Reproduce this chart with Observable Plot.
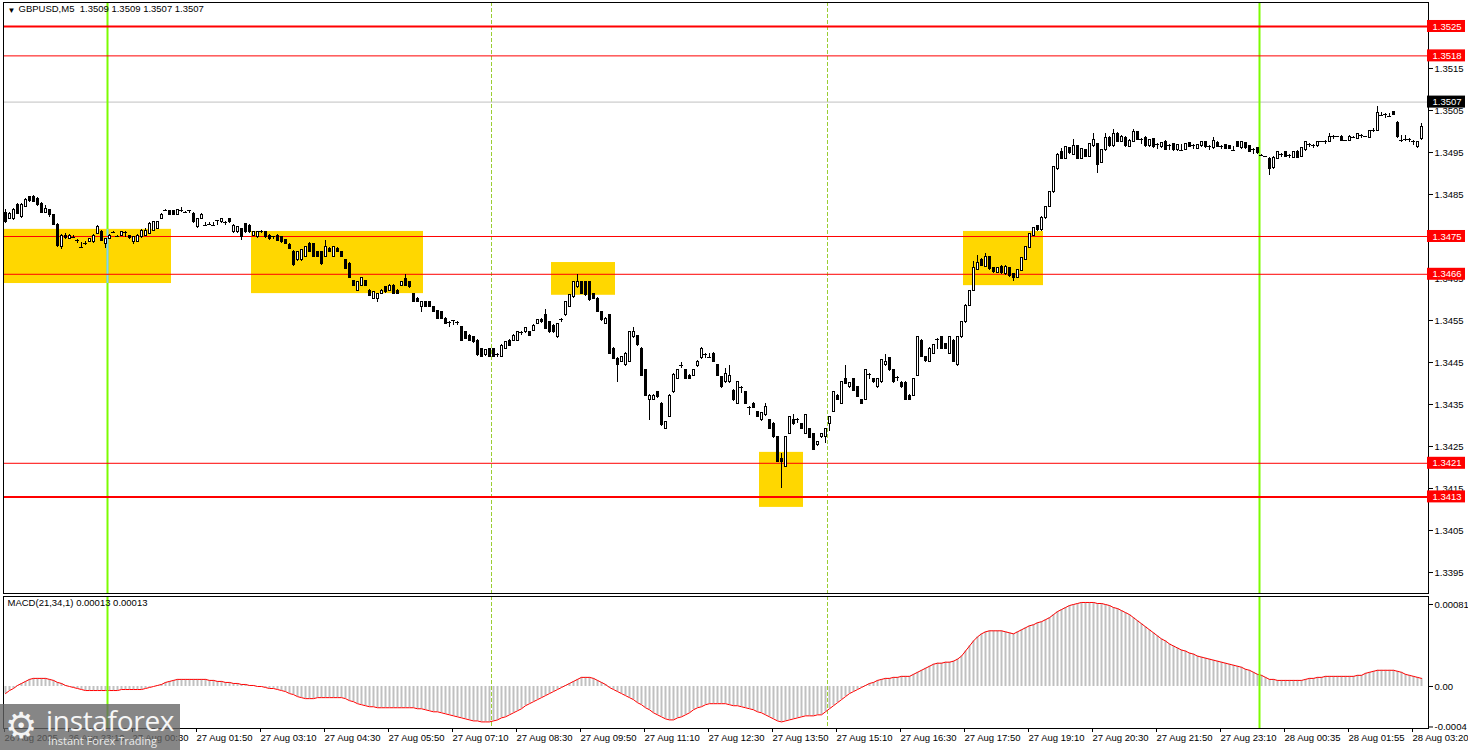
<!DOCTYPE html>
<html><head><meta charset="utf-8">
<script src="https://cdn.jsdelivr.net/npm/d3@7"></script>
<script src="https://cdn.jsdelivr.net/npm/@observablehq/plot@0.6"></script>
<style>
body{margin:0;background:#fff;}
#wrap{position:relative;width:1468px;height:750px;overflow:hidden;background:#fff;}
#wrap svg{display:block;position:absolute;left:0;}
#wm{position:absolute;left:0;top:704px;width:180px;height:46px;background:rgba(100,100,100,0.78);color:#fff;font-family:"Open Sans","DejaVu Sans",sans-serif;}
#wm .gear{position:absolute;left:5px;top:3px;font-size:36px;line-height:38px;color:#f4f4f4;font-family:"DejaVu Sans";}
#wm .big{position:absolute;left:46px;top:1px;font-size:28px;line-height:30px;letter-spacing:-0.3px;color:#f6f6f6;}
#wm .small{position:absolute;left:48px;top:30px;font-size:11px;line-height:13px;color:#eaeaea;}
</style></head><body><div id="wrap"></div>
<script>
// ---------- data (prices in pips above 1.3400) ----------
const BASE = 1.34, PIP = 0.0001;
const candleOpen = [80.6,79.2,79.2,82.4,79.6,82.0,84.4,84.4,84.0,82.8,80.6,81.2,80.0,77.8,72.4,75.0,74.4,74.8,74.0,72.6,73.6,73.6,73.6,75.6,76.0,73.2,74.4,76.0,75.2,75.2,76.0,75.2,73.6,73.8,74.8,75.2,75.6,76.4,76.8,79.2,81.2,81.0,81.0,80.2,81.2,80.8,81.2,80.4,77.2,79.2,77.7,78.0,77.7,78.8,78.4,78.4,79.2,76.0,76.0,76.8,78.0,77.6,75.2,74.8,76.4,76.0,75.2,75.0,75.2,74.8,74.2,72.9,71.3,69.3,69.3,70.1,73.2,73.2,71.3,71.3,70.1,72.1,70.1,72.1,71.3,69.3,68.5,64.3,62.1,63.3,64.3,62.1,60.2,60.2,61.3,62.9,62.1,63.3,62.1,63.3,64.9,64.1,61.3,60.2,58.2,59.4,59.4,58.2,57.2,57.0,55.4,54.6,55.0,54.6,53.4,52.2,51.4,51.0,50.2,48.2,46.7,48.2,48.2,47.1,46.3,48.2,50.2,50.2,50.2,52.2,52.2,52.2,52.6,54.2,55.0,56.2,54.6,53.8,51.0,55.4,56.2,58.2,60.5,62.9,64.1,64.1,64.1,61.3,60.2,57.0,54.2,56.2,48.3,45.9,45.1,44.3,45.1,51.0,51.2,48.3,43.1,36.1,36.1,37.9,35.2,29.2,32.0,37.9,41.1,44.3,43.1,41.9,41.9,44.1,46.0,47.1,46.3,47.1,44.3,41.5,40.3,40.3,38.3,35.2,39.1,37.9,34.4,35.2,33.2,31.2,32.4,31.2,30.4,27.2,22.1,20.1,28.0,31.2,31.6,30.3,28.0,29.2,28.0,25.3,27.2,27.2,30.3,33.2,37.1,35.2,41.1,39.1,41.1,39.1,36.1,36.1,42.3,41.1,39.1,40.3,44.3,46.1,43.1,41.5,40.2,40.2,37.1,37.1,41.9,50.2,46.3,45.1,47.1,50.6,51.0,49.4,47.1,50.2,44.3,51.0,54.6,58.5,62.0,67.0,69.5,67.8,70.0,67.5,66.3,67.8,66.0,67.5,66.0,65.2,66.8,69.5,72.3,75.2,77.5,76.5,79.3,82.0,85.5,91.0,95.0,93.5,96.0,94.5,96.5,93.5,95.5,94.0,96.5,97.0,92.5,95.5,98.5,96.5,99.5,97.5,98.5,96.3,97.5,99.8,98.2,98.5,96.5,98.2,97.0,96.2,97.6,96.8,97.0,95.5,95.6,95.6,97.2,96.8,95.8,96.5,97.5,96.6,96.0,97.3,96.5,96.8,96.5,95.6,97.5,96.0,97.2,96.5,95.8,96.0,94.5,94.0,93.5,91.2,93.5,94.6,95.0,94.5,93.8,95.2,94.0,95.5,97.0,96.8,96.5,97.5,97.8,97.5,99.0,98.8,98.8,97.8,97.8,98.6,98.3,99.2,98.8,98.5,100.0,100.2,103.8,104.2,103.6,104.6,102.1,98.0,98.3,98.3,97.8,96.2,98.3];
const candleHigh = [81.5,80.8,81.6,82.8,82.8,84.0,84.6,84.8,84.4,83.2,82.4,81.4,80.2,78.0,75.4,75.6,75.4,75.2,74.2,73.6,73.8,74.6,75.4,77.6,76.4,74.6,75.4,76.1,75.3,76.2,76.1,75.3,75.0,75.4,76.6,76.8,78.4,78.6,78.6,80.4,81.4,81.2,81.2,81.4,82.0,81.0,81.3,80.6,79.4,80.4,78.4,78.3,78.4,78.9,79.4,78.5,79.4,77.8,77.4,77.0,78.2,77.8,76.2,76.2,76.5,76.2,75.4,75.1,75.4,75.0,74.4,73.4,71.6,71.5,71.9,72.7,73.6,73.4,71.5,71.5,74.0,72.3,72.7,72.3,71.5,69.5,68.7,64.5,64.3,65.3,64.5,62.3,61.9,61.5,62.3,63.1,63.5,63.5,62.3,64.3,66.0,64.3,61.5,60.4,59.6,59.6,59.6,58.4,57.4,57.2,55.6,54.7,55.1,54.7,53.6,52.4,51.6,51.2,50.4,48.4,48.1,48.4,48.4,47.2,49.2,50.0,50.4,51.6,52.4,52.3,53.4,52.4,54.0,55.2,55.4,57.6,54.8,54.0,54.4,55.5,59.6,61.2,64.3,66.0,64.3,64.3,64.3,61.5,60.4,57.2,55.6,56.4,48.5,46.1,46.5,47.3,52.4,53.4,51.4,48.5,43.3,37.3,37.3,38.1,35.4,31.0,37.3,42.3,43.3,45.1,43.3,42.1,43.3,45.4,48.5,47.2,47.1,47.3,44.5,41.7,43.5,44.3,38.5,40.5,39.2,38.1,34.5,35.4,33.4,33.1,35.2,31.4,30.6,27.4,23.3,27.4,32.2,32.5,31.7,30.5,32.6,29.4,28.2,26.2,28.2,29.4,32.2,38.1,37.3,40.5,44.3,40.3,41.3,39.3,36.3,43.3,42.4,41.3,41.3,45.7,46.9,46.3,43.3,41.6,40.4,40.4,37.3,41.3,51.2,50.4,46.5,48.5,49.4,50.7,51.2,49.6,51.2,50.4,51.2,54.8,58.7,62.2,69.0,70.5,69.7,71.0,70.2,67.7,67.7,68.0,68.0,67.7,66.2,67.2,70.0,72.7,75.7,77.2,77.7,79.7,82.2,85.7,91.7,94.7,96.0,96.4,96.2,98.0,96.7,96.0,95.7,97.2,99.5,97.2,95.7,99.5,98.7,100.5,99.7,99.0,98.7,98.0,100.5,100.0,98.3,98.7,98.2,98.4,97.1,97.4,97.8,96.9,97.2,97.0,96.8,97.2,97.4,96.9,97.0,97.7,97.7,96.7,98.5,97.5,96.6,97.0,96.7,96.5,97.7,97.7,97.4,96.7,95.9,96.2,94.6,94.1,93.7,94.0,95.2,94.7,95.2,94.6,95.2,95.4,96.2,97.7,97.1,96.9,97.7,97.6,97.9,99.5,99.1,98.9,99.0,97.9,99.0,98.7,99.5,99.3,98.9,100.2,100.6,106.0,104.5,104.3,104.4,104.8,102.3,99.0,99.0,98.4,97.9,97.6,102.0];
const candleLow = [78.2,79.0,78.8,80.2,79.2,81.8,83.2,83.0,82.2,80.4,80.4,79.6,77.6,72.4,72.0,74.2,74.2,74.5,73.3,72.3,72.8,73.5,73.4,75.4,73.8,72.1,74.2,75.9,75.0,75.0,74.8,74.4,73.0,73.6,74.6,75.0,75.4,76.2,76.6,79.0,81.0,80.0,80.0,80.0,80.6,80.6,80.4,78.2,77.0,79.0,77.5,77.6,77.5,77.6,78.2,77.6,78.2,75.8,75.8,74.0,75.8,75.8,75.0,74.6,75.6,74.6,74.1,74.2,73.8,73.4,73.0,71.8,67.8,69.1,69.1,69.9,71.1,69.9,69.9,68.0,69.9,71.1,69.9,71.1,69.9,67.1,64.9,63.1,61.9,63.1,63.1,60.7,60.0,59.4,61.1,61.5,61.9,61.1,61.1,63.1,63.1,62.7,59.2,59.2,57.0,58.0,58.0,56.8,55.2,55.2,54.0,53.4,53.8,53.8,50.0,50.4,50.0,49.6,46.5,46.1,46.5,46.1,46.1,46.3,46.1,48.0,48.8,50.0,50.0,51.4,52.0,51.2,52.4,54.0,54.4,52.8,52.0,52.0,50.8,54.6,56.0,58.0,60.3,62.7,61.1,60.8,59.6,60.0,56.8,54.8,54.0,46.9,45.7,40.3,44.9,44.1,44.9,50.8,48.9,41.7,36.9,31.2,35.9,36.5,29.8,29.0,31.8,37.7,40.9,43.5,40.9,40.9,41.7,43.9,45.8,46.0,46.1,44.9,41.7,38.9,40.1,40.1,35.8,35.0,37.5,35.0,32.4,34.0,31.8,31.0,32.2,29.0,27.0,21.1,14.9,19.9,27.8,30.1,30.5,29.0,27.8,26.9,24.0,25.1,27.0,25.8,28.5,33.0,35.9,35.0,39.7,38.9,38.1,36.7,35.0,35.9,41.0,40.1,38.9,40.1,44.1,42.9,40.1,40.5,38.9,35.9,35.9,36.9,41.7,46.1,45.1,44.9,46.9,48.0,48.1,48.1,46.9,44.9,44.1,50.8,54.4,58.3,61.8,66.8,67.8,67.6,67.0,66.3,66.1,66.0,65.8,65.3,64.2,65.0,66.6,69.3,72.1,75.0,76.3,76.3,79.1,81.8,85.3,90.8,93.3,93.3,94.6,94.3,93.3,93.3,93.8,93.8,96.3,90.0,92.3,95.3,96.3,96.3,97.3,97.3,96.3,96.1,97.3,97.8,96.8,96.3,96.3,96.0,95.8,96.0,95.4,95.5,95.3,95.3,95.4,95.4,96.1,95.8,95.6,96.3,96.0,95.5,95.8,96.1,95.6,95.6,95.6,95.4,96.1,95.8,95.8,95.0,94.5,94.6,94.3,93.9,89.5,91.0,93.3,93.8,93.8,93.5,93.6,93.6,93.8,95.3,96.2,96.0,96.3,97.4,96.8,97.3,98.2,98.7,97.6,97.7,97.6,98.5,98.1,98.3,98.7,98.3,99.8,100.0,103.6,103.2,103.4,103.7,98.4,97.4,97.6,97.3,96.6,96.0,97.8];
const candleClose = [78.4,80.4,81.2,80.4,82.4,83.6,83.4,83.2,82.4,80.6,81.6,80.0,77.8,72.8,75.0,74.6,75.2,74.8,74.0,72.4,73.4,74.4,75.2,77.2,74.0,74.4,75.2,76.0,75.1,76.0,75.9,74.6,74.8,75.2,76.4,76.4,78.0,78.4,78.4,80.2,81.2,80.2,80.2,81.2,81.2,80.8,81.1,78.4,79.2,80.2,77.6,77.8,77.6,78.7,79.2,78.3,78.4,77.6,77.2,74.8,76.0,76.0,76.0,76.0,76.3,74.8,74.3,74.9,74.0,73.6,73.2,72.1,68.1,71.3,71.7,72.5,71.3,70.1,70.1,68.5,72.5,71.3,72.5,71.3,70.1,67.3,65.1,63.3,64.1,65.1,63.3,60.9,61.7,61.3,62.1,61.7,63.3,61.3,61.3,64.1,63.3,62.9,59.4,59.4,59.4,58.2,58.2,57.0,55.4,55.4,54.2,54.5,54.9,54.5,50.2,50.6,50.2,49.8,46.7,46.3,47.9,46.3,46.3,47.0,49.0,49.8,49.0,51.4,52.2,52.1,53.2,51.4,53.8,55.0,54.6,53.0,52.2,52.2,54.2,55.3,59.4,61.0,64.1,64.1,61.3,61.0,59.8,60.2,57.0,55.0,55.4,47.1,45.9,44.3,46.3,47.1,52.2,52.2,49.1,41.9,37.1,37.1,37.1,36.7,30.0,30.8,37.1,42.1,43.1,44.2,41.1,41.1,43.1,45.2,48.3,47.0,46.2,45.1,41.9,39.1,42.3,41.9,36.0,40.3,39.0,35.2,34.3,34.2,32.0,32.9,34.4,29.2,27.2,21.3,21.3,27.2,32.0,30.3,31.5,29.2,32.4,27.1,24.2,26.0,28.0,29.2,32.0,37.9,36.1,40.3,39.9,40.1,38.3,36.9,35.2,43.1,42.2,40.3,41.1,45.5,45.2,43.1,40.3,41.4,39.1,36.1,36.1,41.1,51.0,46.3,45.3,48.3,49.2,50.5,48.3,48.3,51.0,45.1,51.0,54.6,58.5,62.0,67.5,68.8,68.0,70.0,67.2,66.5,67.5,66.2,67.8,65.5,65.0,67.0,69.8,72.5,75.5,77.0,76.5,79.5,82.0,85.5,91.5,94.5,93.5,96.2,94.8,96.5,93.5,95.8,94.0,97.0,98.0,92.0,95.5,98.5,96.5,99.5,97.5,98.8,96.5,97.8,99.8,98.0,98.1,96.5,98.0,96.2,96.9,97.2,95.6,96.7,95.5,96.8,95.5,97.0,96.3,96.7,96.8,97.5,96.2,96.5,97.8,96.3,96.4,95.8,95.8,95.5,96.3,97.5,96.0,95.2,95.7,94.8,94.4,94.0,91.0,93.8,95.0,94.5,94.0,94.4,95.0,93.8,96.0,97.5,96.9,96.7,97.5,97.5,97.7,98.8,98.9,98.8,97.8,97.8,98.8,98.6,99.3,99.1,98.8,100.0,100.2,104.5,103.7,104.1,103.5,103.9,98.6,97.8,98.2,98.2,97.7,97.4,101.0];
// MACD(21,34,1) main value per bar, in units of 0.00001
const macdValues = [-7,-4,-2,1,3,5,7,8,8,8,8,7,6,4,3,1,0,-1,-2,-3,-4,-4,-4,-4,-4,-4,-4,-4,-4,-3,-3,-3,-3,-3,-3,-2,-1,0,1,2,4,5,6,7,7,7,7,7,7,7,7,6,6,5,5,4,4,3,3,2,2,1,1,0,0,-1,-2,-2,-3,-4,-5,-7,-8,-10,-11,-12,-12,-12,-11,-11,-11,-11,-11,-11,-11,-12,-14,-15,-17,-18,-19,-20,-20,-21,-21,-21,-21,-21,-21,-21,-21,-21,-21,-22,-22,-23,-24,-25,-25,-26,-27,-28,-29,-30,-31,-32,-33,-34,-34,-35,-35,-35,-34,-33,-31,-30,-28,-26,-24,-22,-19,-17,-15,-13,-11,-9,-7,-5,-3,-1,1,3,5,7,9,9,9,8,6,4,2,-1,-3,-5,-7,-9,-11,-13,-16,-18,-21,-23,-26,-28,-30,-32,-33,-33,-31,-30,-28,-26,-23,-21,-20,-18,-17,-17,-17,-17,-17,-18,-19,-19,-20,-21,-22,-23,-25,-26,-28,-30,-32,-34,-35,-34,-33,-32,-31,-30,-29,-29,-29,-28,-28,-25,-22,-19,-16,-13,-10,-7,-5,-3,-1,1,3,4,6,7,8,8,9,9,10,10,10,12,14,16,18,20,22,23,23,24,24,25,27,30,35,40,45,49,52,54,55,55,55,55,54,53,52,54,56,58,60,61,63,64,66,68,71,74,76,78,80,81,82,83,83,83,83,82,82,81,80,78,77,75,73,71,68,65,62,59,56,53,50,47,45,42,40,38,36,35,33,32,30,29,28,27,26,25,24,23,22,21,20,19,17,16,14,12,11,9,7,7,6,6,6,6,6,6,6,7,8,8,9,9,10,10,10,10,10,10,10,10,11,11,13,14,15,16,16,16,16,16,15,14,12,11,10,9,8];
// time axis: bar index of each tick and its label
const tickBars = [0,16,32,48,64,80,96,112,128,144,160,176,192,208,224,240,256,272,288,304,320,336,352];
const tickLabels = ["26 Aug 2025","26 Aug 23:10","27 Aug 00:30","27 Aug 01:50","27 Aug 03:10","27 Aug 04:30","27 Aug 05:50","27 Aug 07:10","27 Aug 08:30","27 Aug 09:50","27 Aug 11:10","27 Aug 12:30","27 Aug 13:50","27 Aug 15:10","27 Aug 16:30","27 Aug 17:50","27 Aug 19:10","27 Aug 20:30","27 Aug 21:50","27 Aug 23:10","28 Aug 00:35","28 Aug 01:55","28 Aug 03:20"];
const priceTicks = [1.3395,1.3405,1.3415,1.3425,1.3435,1.3445,1.3455,1.3465,1.3475,1.3485,1.3495,1.3505,1.3515,1.3525];
const macdTicks = [0.00081, 0, -0.0004];
const macdTickLabels = ["0.00081","0.00","-0.0004"];
// horizontal levels
const levelPrices = [1.3525, 1.3518, 1.3475, 1.3466, 1.3421, 1.3413];
const levelWidths = [2, 1, 1, 1, 1, 2];
const bidPrice = 1.3507;
// yellow zones (bar positions and price bounds)
const zoneStart = [-0.5, 61.5, 136.5, 188.5, 239.5];
const zoneEnd = [41.5, 104.5, 152.5, 199.5, 259.5];
const zoneTop = [1.34767, 1.34762, 1.34688, 1.34236, 1.34762];
const zoneBottom = [1.34638, 1.34614, 1.34610, 1.34105, 1.34633];
// vertical markers (bar where they sit)
const dayLineBars = [26, 314];
const sessionLineBars = [122, 206];
const headerText = "GBPUSD,M5\u00a0\u00a01.3509 1.3509 1.3507 1.3507";
const macdTitle = "MACD(21,34,1) 0.00013 0.00013";

// ---------- build ----------
const FONT = "'Liberation Sans', Arial, sans-serif";
const W = 1468;
const xDomain = [-0.5, 355.75];
const candles = candleOpen.map((o, i) => ({
  i, o: BASE + o * PIP, h: BASE + candleHigh[i] * PIP, l: BASE + candleLow[i] * PIP, c: BASE + candleClose[i] * PIP
}));
const bodies = candles.filter(d => Math.abs(d.c - d.o) >= 0.3 * PIP);
const dojis = candles.filter(d => Math.abs(d.c - d.o) < 0.3 * PIP);
const zones = zoneStart.map((s, k) => ({x1: s, x2: zoneEnd[k], y1: zoneBottom[k], y2: zoneTop[k]}));
const levels = levelPrices.map((p, k) => ({p, w: levelWidths[k]}));
const dayLines = dayLineBars.map(b => b - 0.5);
const sessionLines = sessionLineBars.map(b => b - 0.5);
const crossings = [];
dayLines.forEach(x => zones.forEach(z => { if (x >= z.x1 && x <= z.x2) crossings.push({x, y1: z.y1, y2: z.y2}); }));
const macd = macdValues.map((v, i) => ({i, v: v * 1e-5}));
const tickPos = tickBars.map(b => b - 0.5);
const labelAt = new Map(tickPos.map((p, k) => [p, tickLabels[k]]));

const mainPlot = Plot.plot({
  width: W, height: 594,
  marginLeft: 3, marginRight: 40, marginTop: 2, marginBottom: 1,
  x: {domain: xDomain, axis: null, label: null},
  y: {domain: [1.3390, 1.353071], axis: null, label: null},
  style: {fontFamily: FONT, fontSize: "9.5px", background: "transparent", overflow: "visible", color: "black"},
  marks: [
    Plot.rect(zones, {x1: "x1", x2: "x2", y1: "y1", y2: "y2", fill: "#FFD700"}),
    Plot.ruleX(sessionLines, {stroke: "#9ACD32", strokeDasharray: "4,2", strokeWidth: 1}),
    Plot.ruleY([bidPrice], {stroke: "#c0c0c0", strokeWidth: 1}),
    Plot.ruleX(dayLines, {stroke: "#7CFC00", strokeWidth: 2}),
    Plot.ruleX(crossings, {x: "x", y1: "y1", y2: "y2", stroke: "#87CEFA", strokeWidth: 2}),
    Plot.ruleY(levels, {y: "p", stroke: "#FF0000", strokeWidth: "w"}),
    Plot.ruleX(candles, {x: "i", y1: "l", y2: "h", stroke: "black", strokeWidth: 1, shapeRendering: "crispEdges"}),
    Plot.rect(bodies, {x1: d => d.i - 0.25, x2: d => d.i + 0.25, y1: "o", y2: "c",
      fill: d => d.c > d.o ? "white" : "black", stroke: "black", strokeWidth: 1, shapeRendering: "crispEdges"}),
    Plot.ruleY(dojis, {y: "c", x1: d => d.i - 0.4, x2: d => d.i + 0.4, stroke: "black", strokeWidth: 1, shapeRendering: "crispEdges"}),
    Plot.frame({stroke: "black"}),
    Plot.axisY(priceTicks, {anchor: "right", label: null, tickSize: 4, tickPadding: 2, tickFormat: d => d.toFixed(4), fill: "black"}),
    Plot.rect(levels, {x1: xDomain[1], x2: xDomain[1], y1: "p", y2: "p", insetLeft: -1, insetRight: -37, insetTop: -6, insetBottom: -6, fill: "#FF0000"}),
    Plot.text(levels, {x: xDomain[1], y: "p", text: d => d.p.toFixed(4), textAnchor: "start", dx: 4, fill: "white"}),
    Plot.rect([bidPrice], {x1: xDomain[1], x2: xDomain[1], y1: d => d, y2: d => d, insetLeft: -1, insetRight: -37, insetTop: -6, insetBottom: -6, fill: "black"}),
    Plot.text([bidPrice], {x: xDomain[1], y: d => d, text: d => d.toFixed(4), textAnchor: "start", dx: 4, fill: "white"}),
    Plot.text(["\u25BC"], {frameAnchor: "top-left", dx: 4, dy: 5, textAnchor: "start", lineAnchor: "top", fontSize: 8, fill: "black"}),
    Plot.text([headerText], {frameAnchor: "top-left", dx: 15, dy: 3, textAnchor: "start", lineAnchor: "top", fill: "black"})
  ]
});

const macdPlot = Plot.plot({
  width: W, height: 156,
  marginLeft: 3, marginRight: 40, marginTop: 2, marginBottom: 22,
  x: {domain: xDomain, axis: null, label: null},
  y: {domain: [-0.000415, 0.000889], axis: null, label: null},
  style: {fontFamily: FONT, fontSize: "9.5px", background: "transparent", overflow: "visible", color: "black"},
  marks: [
    Plot.ruleX(sessionLines, {stroke: "#9ACD32", strokeDasharray: "4,2", strokeWidth: 1}),
    Plot.ruleX(macd, {x: "i", y1: 0, y2: "v", stroke: "#c0c0c0", strokeWidth: 2}),
    Plot.line(macd, {x: "i", y: "v", stroke: "#FF0000", strokeWidth: 1}),
    Plot.ruleX(dayLines, {stroke: "#7CFC00", strokeWidth: 2}),
    Plot.frame({stroke: "black"}),
    Plot.axisY(macdTicks, {anchor: "right", label: null, tickSize: 4, tickPadding: 2, tickFormat: (d) => macdTickLabels[macdTicks.indexOf(d)], fill: "black"}),
    Plot.axisX(tickPos, {anchor: "bottom", label: null, tickSize: 4, tickPadding: 2, textAnchor: "start", dx: 1, tickFormat: d => labelAt.get(d), fill: "black"}),
    Plot.text([macdTitle], {frameAnchor: "top-left", dx: 4, dy: 3, textAnchor: "start", lineAnchor: "top", fill: "black"})
  ]
});

const wrap = document.getElementById("wrap");
mainPlot.style.top = "0px";
macdPlot.style.top = "594px";
wrap.appendChild(mainPlot);
wrap.appendChild(macdPlot);
const wm = document.createElement("div");
wm.id = "wm";
wm.innerHTML = '<span class="gear">\u2699</span><span class="big">instaforex</span><span class="small">Instant Forex Trading</span>';
wrap.appendChild(wm);
</script>
</body></html>
